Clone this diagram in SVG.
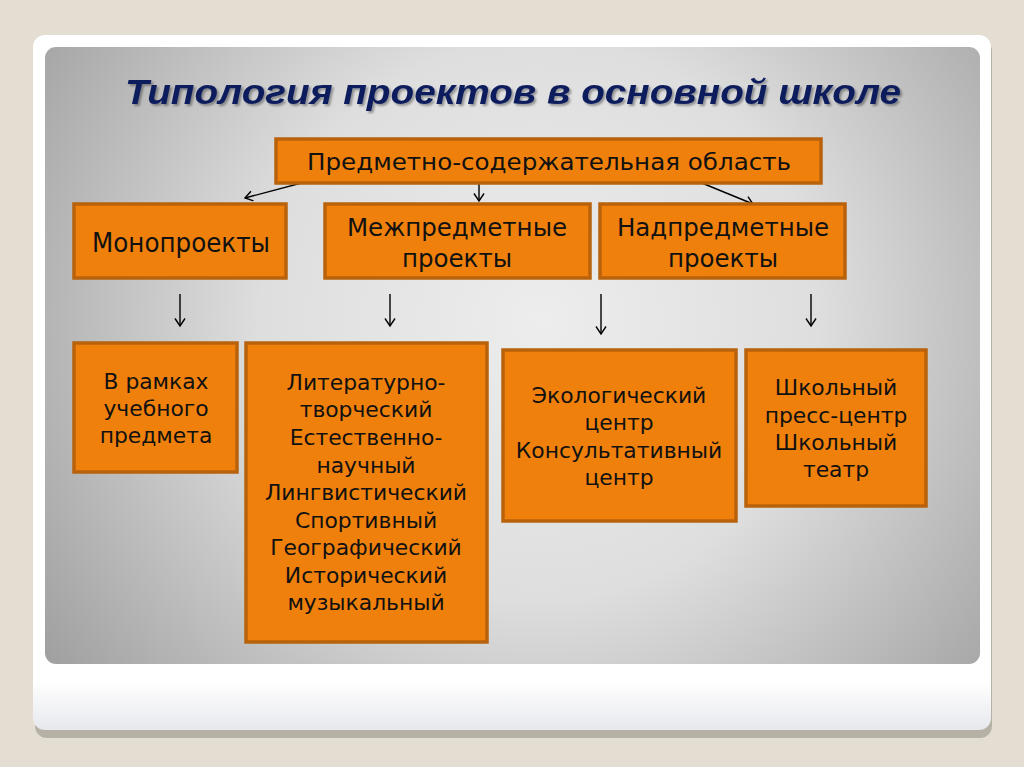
<svg xmlns="http://www.w3.org/2000/svg" width="1024" height="767" viewBox="0 0 1024 767">
<defs>
<radialGradient id="panelGrad" gradientUnits="userSpaceOnUse" cx="540" cy="320" r="620">
<stop offset="0" stop-color="#ededed"/>
<stop offset="0.45" stop-color="#dedede"/>
<stop offset="1" stop-color="#9c9c9c"/>
</radialGradient>
<linearGradient id="cardGrad" x1="0" y1="0" x2="0" y2="1">
<stop offset="0" stop-color="#ffffff"/>
<stop offset="0.93" stop-color="#ffffff"/>
<stop offset="1" stop-color="#e6e8ec"/>
</linearGradient>
<filter id="titleShadow" x="-5%" y="-20%" width="110%" height="150%">
<feDropShadow dx="2" dy="2" stdDeviation="1.2" flood-color="#000" flood-opacity="0.35"/>
</filter>
<marker id="arr" markerUnits="userSpaceOnUse" markerWidth="14" markerHeight="14" refX="8" refY="5.5" orient="auto">
<path d="M0.5,0.5 L8,5.5 L0.5,10.5" fill="none" stroke="#000" stroke-width="1.4"/>
</marker>
</defs>
<style>
.box{fill:#f0800c;stroke:#b9620c;stroke-width:3.5}
.t{font-family:"DejaVu Sans",Verdana,sans-serif;fill:#111;text-anchor:middle}
.s21{font-size:21px}
.s24{font-size:24.5px}
.conn line{stroke:#000;stroke-width:1.4;marker-end:url(#arr)}
</style>
<rect width="1024" height="767" fill="#e4ddd1"/>
<rect x="35" y="39" width="957" height="699" rx="12" fill="#aea99e" opacity="0.85"/>
<rect x="33" y="35" width="958" height="695" rx="12" fill="url(#cardGrad)"/>
<rect x="45" y="47" width="935" height="617" rx="11" fill="url(#panelGrad)"/>
<text x="513" y="104" font-family="Liberation Sans, Arial, sans-serif" font-size="35" font-weight="bold" font-style="italic" fill="#0c1c5c" text-anchor="middle" textLength="776" lengthAdjust="spacingAndGlyphs" filter="url(#titleShadow)">Типология проектов в основной школе</text>

<g id="connectors" class="conn">
<line x1="309" y1="181" x2="245" y2="198"/>
<line x1="479" y1="183" x2="479" y2="201"/>
<line x1="697" y1="181" x2="753" y2="204"/>
<line x1="180" y1="294" x2="180" y2="326"/>
<line x1="390" y1="294" x2="390" y2="326"/>
<line x1="601" y1="294" x2="601" y2="334"/>
<line x1="811" y1="294" x2="811" y2="326"/>
</g>

<g id="node-subject">
<rect class="box" x="276" y="139" width="545" height="44"/>
<text class="t" font-size="23.5" x="549" y="170" textLength="484" lengthAdjust="spacingAndGlyphs">Предметно-содержательная область</text>
</g>
<g id="node-mono">
<rect class="box" x="74" y="204" width="212" height="74"/>
<text class="t" font-size="26" x="181" y="252" textLength="178" lengthAdjust="spacingAndGlyphs">Монопроекты</text>
</g>
<g id="node-inter">
<rect class="box" x="325" y="204" width="265" height="74"/>
<text class="t s24" x="457" y="236">Межпредметные</text><text class="t s24" x="457" y="267">проекты</text>
</g>
<g id="node-supra">
<rect class="box" x="600" y="204" width="245" height="74"/>
<text class="t s24" x="723" y="236">Надпредметные</text><text class="t s24" x="723" y="267">проекты</text>
</g>
<g id="node-subject-frame">
<rect class="box" x="74" y="343" width="163" height="129"/>
<g transform="translate(156 0) scale(1.04 1)"><text class="t s21" x="0" y="389">В рамках</text><text class="t s21" x="0" y="416">учебного</text><text class="t s21" x="0" y="443">предмета</text></g>
</g>
<g id="node-inter-list">
<rect class="box" x="246" y="343" width="241" height="299"/>
<g transform="translate(366 0) scale(1.04 1)"><text class="t s21" x="0" y="390">Литературно-</text><text class="t s21" x="0" y="417">творческий</text><text class="t s21" x="0" y="445">Естественно-</text><text class="t s21" x="0" y="473">научный</text><text class="t s21" x="0" y="500">Лингвистический</text><text class="t s21" x="0" y="528">Спортивный</text><text class="t s21" x="0" y="555">Географический</text><text class="t s21" x="0" y="583">Исторический</text><text class="t s21" x="0" y="610">музыкальный</text></g>
</g>
<g id="node-eco">
<rect class="box" x="503" y="350" width="233" height="171"/>
<g transform="translate(619 0) scale(1.04 1)"><text class="t s21" x="0" y="403">Экологический</text><text class="t s21" x="0" y="430">центр</text><text class="t s21" x="0" y="458">Консультативный</text><text class="t s21" x="0" y="485">центр</text></g>
</g>
<g id="node-school">
<rect class="box" x="746" y="350" width="180" height="156"/>
<g transform="translate(836 0) scale(1.04 1)"><text class="t s21" x="0" y="395">Школьный</text><text class="t s21" x="0" y="423">пресс-центр</text><text class="t s21" x="0" y="450">Школьный</text><text class="t s21" x="0" y="477">театр</text></g>
</g>
</svg>
